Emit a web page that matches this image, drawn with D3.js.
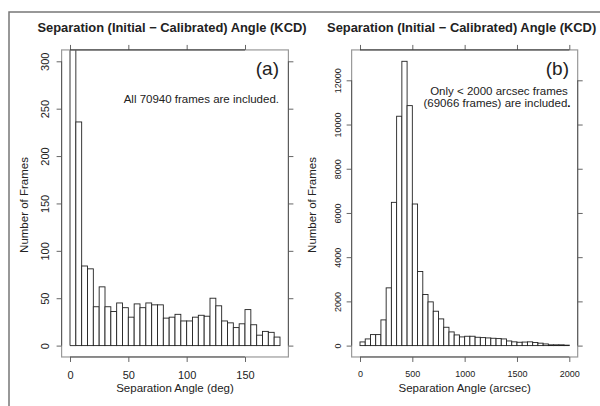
<!DOCTYPE html>
<html>
<head>
<meta charset="utf-8">
<script src="https://cdn.jsdelivr.net/npm/d3@7"></script>
<style>
  body { margin: 0; background: #fff; }
  svg { display: block; font-family: "Liberation Sans", Arial, sans-serif; }
</style>
</head>
<body>
<svg id="chart" width="600" height="406"></svg>
<script>
// Panel (a): separation angle in degrees, 5 deg bins
var degBinWidth = 5;
var degCounts = [69499, 236, 84, 81, 41, 62, 41, 36, 45, 40, 30, 44, 40, 45, 43, 43, 29, 30,
                 33, 26, 26, 30, 32, 31, 50, 42, 26, 24, 19, 23, 38, 22, 11, 15, 14, 9];
var degTicksX = [0, 50, 100, 150];
var degTicksY = [0, 50, 100, 150, 200, 250, 300];

// Panel (b): separation angle in arcsec, 50 arcsec bins
var secBinWidth = 50;
var secCounts = [166, 302, 498, 498, 1163, 2612, 6480, 10375, 12860, 10855, 6405, 3350, 2310, 1978,
                 1555, 1208, 830, 619, 483, 393, 423, 423, 377, 362, 347, 332, 317, 302, 210, 170,
                 151, 160, 170, 140, 110, 75, 35, 35, 35, 20];
var secTicksX = [0, 500, 1000, 1500, 2000];
var secTicksY = [0, 2000, 4000, 6000, 8000, 10000, 12000];

var title = "Separation (Initial \u2212 Calibrated) Angle (KCD)";

var svg = d3.select("#chart");

// outer frame (top and left edges only visible)
svg.append("path")
  .attr("d", "M9,406 L9,12 L600,12")
  .attr("fill", "none")
  .attr("stroke", "#777")
  .attr("stroke-width", 1.5);

function panel(opt){
    var x = d3.scaleLinear().domain(opt.xdom).range(opt.xr);
    var y = d3.scaleLinear().domain(opt.ydom).range([345.6, 61.3]);
    // R style 4% extension of the plot region
    var dx = 0.04 * (opt.xr[1] - opt.xr[0]);
    var dy = 0.04 * (345.6 - 61.3);
    var bx0 = opt.xr[0] - dx, bx1 = opt.xr[1] + dx;
    var by0 = 61.3 - dy, by1 = 345.6 + dy;

    var g = svg.append("g");
    var clipId = "clip-" + opt.id;
    g.append("clipPath").attr("id", clipId)
      .append("rect")
      .attr("x", bx0).attr("y", by0)
      .attr("width", bx1 - bx0).attr("height", by1 - by0);

    // bars
    g.append("g").attr("clip-path", "url(#" + clipId + ")")
      .selectAll("rect")
      .data(opt.counts)
      .enter()
      .append("rect")
      .attr("x", function(d, i){ return x(i * opt.bw); })
      .attr("width", function(d, i){ return x((i + 1) * opt.bw) - x(i * opt.bw); })
      .attr("y", function(d){ return y(d); })
      .attr("height", function(d){ return y(0) - y(d); })
      .attr("fill", "#fff")
      .attr("stroke", "#222")
      .attr("stroke-width", 0.9);

    // box
    g.append("rect")
      .attr("x", bx0).attr("y", by0)
      .attr("width", bx1 - bx0).attr("height", by1 - by0)
      .attr("fill", "none")
      .attr("stroke", "#999")
      .attr("stroke-width", 1.2);

    // axes on the four sides, labels only left and bottom
    var fmt = d3.format("d");
    var axes = [
        { a: d3.axisBottom(x).tickValues(opt.xt), t: "translate(0," + by1 + ")", lab: true },
        { a: d3.axisTop(x).tickValues(opt.xt),    t: "translate(0," + by0 + ")", lab: false },
        { a: d3.axisLeft(y).tickValues(opt.yt),   t: "translate(" + bx0 + ",0)", lab: true },
        { a: d3.axisRight(y).tickValues(opt.yt),  t: "translate(" + bx1 + ",0)", lab: false }
    ];
    axes.forEach(function(ax, k){
        ax.a.tickFormat(fmt).tickSizeInner(5).tickSizeOuter(0).tickPadding(9);
        var ag = g.append("g").attr("transform", ax.t).call(ax.a);
        ag.select(".domain").remove();
        ag.selectAll(".tick line").attr("stroke", "#666");
        if(!ax.lab){
            ag.selectAll(".tick text").remove();
        } else {
            ag.selectAll(".tick text")
              .attr("fill", "#222")
              .style("font-size", opt.tickFont + "px")
              .style("font-family", "'Liberation Sans', Arial, sans-serif");
        }
        if(k == 2){
            // rotated y labels like R's las=0
            ag.selectAll(".tick text")
              .attr("x", null).attr("dy", null)
              .attr("text-anchor", "middle")
              .attr("transform", "translate(" + (-opt.ylabOff) + ",0) rotate(-90)");
        }
    });
    // axis lines between first and last tick
    var xt = opt.xt, yt = opt.yt;
    g.append("line").attr("x1", x(xt[0])).attr("x2", x(xt[xt.length-1]))
      .attr("y1", by0).attr("y2", by0).attr("stroke", "#333");
    g.append("line").attr("x1", x(xt[0])).attr("x2", x(xt[xt.length-1]))
      .attr("y1", by1).attr("y2", by1).attr("stroke", "#555");
    g.append("line").attr("x1", bx0).attr("x2", bx0)
      .attr("y1", y(yt[0])).attr("y2", y(yt[yt.length-1])).attr("stroke", "#555");
    g.append("line").attr("x1", bx1).attr("x2", bx1)
      .attr("y1", y(yt[0])).attr("y2", y(yt[yt.length-1])).attr("stroke", "#555");

    // titles
    var cx = (bx0 + bx1) / 2;
    g.append("text")
      .attr("x", cx - 3).attr("y", 32)
      .attr("text-anchor", "middle")
      .style("font-size", "12.9px")
      .style("font-weight", "bold")
      .attr("fill", "#222")
      .text(title);
    g.append("text")
      .attr("x", cx).attr("y", 392)
      .attr("text-anchor", "middle")
      .style("font-size", "11.5px")
      .attr("fill", "#222")
      .text(opt.xlab);
    g.append("text")
      .attr("transform", "translate(" + opt.ylabX + ",205) rotate(-90)")
      .attr("text-anchor", "middle")
      .style("font-size", "11.5px")
      .attr("fill", "#222")
      .text("Number of Frames");

    // panel letter and notes
    g.append("text")
      .attr("x", opt.letterX).attr("y", 75)
      .attr("text-anchor", "end")
      .style("font-size", "19px")
      .attr("fill", "#222")
      .text(opt.letter);
    opt.notes.forEach(function(n){
        g.append("text")
          .attr("x", n.x).attr("y", n.y)
          .attr("text-anchor", n.anchor)
          .style("font-size", "11.5px")
          .attr("fill", "#222")
          .text(n.t);
    });
    return g;
}

panel({
    id: "a", counts: degCounts, bw: degBinWidth,
    xdom: [0, 180], xr: [70, 280], ydom: [0, 300],
    xt: degTicksX, yt: degTicksY, tickFont: 11, ylabOff: 13,
    xlab: "Separation Angle (deg)", ylabX: 28,
    letter: "(a)", letterX: 279,
    notes: [{ t: "All 70940 frames are included.", x: 279, y: 103, anchor: "end" }]
});

var gb = panel({
    id: "b", counts: secCounts, bw: secBinWidth,
    xdom: [0, 2000], xr: [360, 569.3], ydom: [0, 12860],
    xt: secTicksX, yt: secTicksY, tickFont: 9, ylabOff: 11,
    xlab: "Separation Angle (arcsec)", ylabX: 316,
    letter: "(b)", letterX: 569,
    notes: [{ t: "Only < 2000 arcsec frames", x: 499, y: 95, anchor: "middle" },
            { t: "(69066 frames) are included", x: 497, y: 107, anchor: "middle" }]
});
// the bold full stop after the second note
var lastNote = gb.selectAll("text").filter(function(){ return this.textContent == "(69066 frames) are included"; });
lastNote.append("tspan").style("font-weight", "bold").attr("fill", "#000").text(".");
</script>
</body>
</html>
